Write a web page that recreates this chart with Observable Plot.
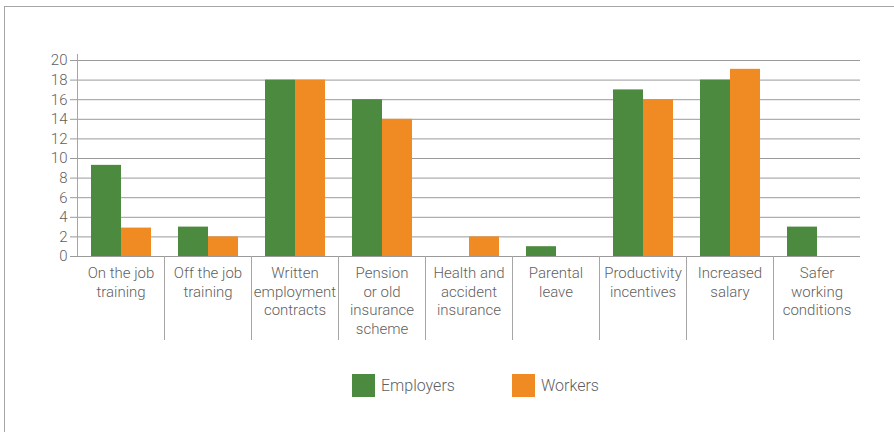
<!DOCTYPE html>
<html>
<head>
<meta charset="utf-8">
<script src="https://cdn.jsdelivr.net/npm/d3@7"></script>
<script src="https://cdn.jsdelivr.net/npm/@observablehq/plot@0.6"></script>
<style>
  html, body { margin: 0; padding: 0; background: #fff; }
  #wrap { position: relative; width: 894px; height: 432px; overflow: hidden; font-family: Roboto, "Open Sans", sans-serif; }
  #frame { position: absolute; left: 4px; top: 6px; width: 900px; height: 440px; border-left: 1px solid #a6a6a6; border-top: 1px solid #a6a6a6; }
  #chart { position: absolute; left: 0; top: 0; }
  .item { position: absolute; top: 374px; display: flex; align-items: center; font-size: 16px; font-weight: 300; color: #5f5f5f; }
  .sw { width: 23px; height: 23px; margin-right: 6px; }
</style>
</head>
<body>
<div id="wrap">
  <div id="frame"></div>
  <div id="chart"></div>
  <div id="legend"></div>
</div>
<script>
const categories = [
  "On the job\ntraining",
  "Off the job\ntraining",
  "Written\nemployment\ncontracts",
  "Pension\nor old\ninsurance\nscheme",
  "Health and\naccident\ninsurance",
  "Parental\nleave",
  "Productivity\nincentives",
  "Increased\nsalary",
  "Safer\nworking\nconditions"
];
const series = ["Employers", "Workers"];
const employers = [9.3, 3, 18, 16, 0, 1, 17, 18, 3];
const workers = [2.9, 2, 18, 14, 2, 0, 16, 19.1, 0];
const yTicks = [0, 2, 4, 6, 8, 10, 12, 14, 16, 18, 20];
const colors = ["#4c8b3f", "#f08a23"];

const data = categories.flatMap((c, i) => [
  {category: c, series: series[0], value: employers[i]},
  {category: c, series: series[1], value: workers[i]}
]);

const plot = Plot.plot({
  width: 894,
  height: 348,
  marginLeft: 73,
  marginRight: 31,
  marginTop: 60,
  marginBottom: 92,
  style: {fontFamily: "Roboto, 'Open Sans', sans-serif", fontWeight: 300, fontSize: "15px", color: "#5f5f5f", background: "transparent"},
  fx: {domain: categories, padding: 0, label: null},
  x: {domain: series, paddingInner: 0, paddingOuter: 0.42, axis: null},
  y: {domain: [0, 20], label: null},
  color: {domain: series, range: colors},
  marks: [
    Plot.gridY(yTicks, {stroke: "#9a9a9a", strokeOpacity: 1}),
    Plot.barY(data, {fx: "category", x: "series", y: "value", fill: "series"}),
    Plot.ruleY([0], {stroke: "#9a9a9a"}),
    Plot.axisY(yTicks, {tickSize: 7, tickPadding: 3, fontSize: 15, stroke: "#9a9a9a", fill: "#5f5f5f", label: null}),
    Plot.axisFx({anchor: "bottom", tickSize: 0, tickPadding: 8, lineHeight: 1.25, fontSize: 15, fill: "#5f5f5f", label: null})
  ]
});

document.getElementById("chart").appendChild(plot);

// separators between categories and y axis line, positioned via the plot's scales
const fx = plot.scale("fx");
const y = plot.scale("y");
const svg = d3.select(plot);
const g = svg.append("g").attr("stroke", "#a6a6a6").attr("stroke-width", 1);
categories.slice(1).forEach(c => {
  const xPos = Math.round(fx.apply(c)) + 0.5;
  g.append("line").attr("x1", xPos).attr("x2", xPos).attr("y1", y.apply(0)).attr("y2", y.apply(0) + 84);
});
const x0 = Math.round(fx.apply(categories[0])) + 0.5;
g.append("line").attr("x1", x0).attr("x2", x0).attr("y1", y.apply(0)).attr("y2", y.apply(20) - 6);

// legend
const legend = document.getElementById("legend");
const lefts = [352, 512];
series.forEach((s, i) => {
  const item = document.createElement("div");
  item.className = "item";
  item.style.left = lefts[i] + "px";
  item.innerHTML = `<div class="sw" style="background:${colors[i]}"></div><span>${s}</span>`;
  legend.appendChild(item);
});
</script>
</body>
</html>
